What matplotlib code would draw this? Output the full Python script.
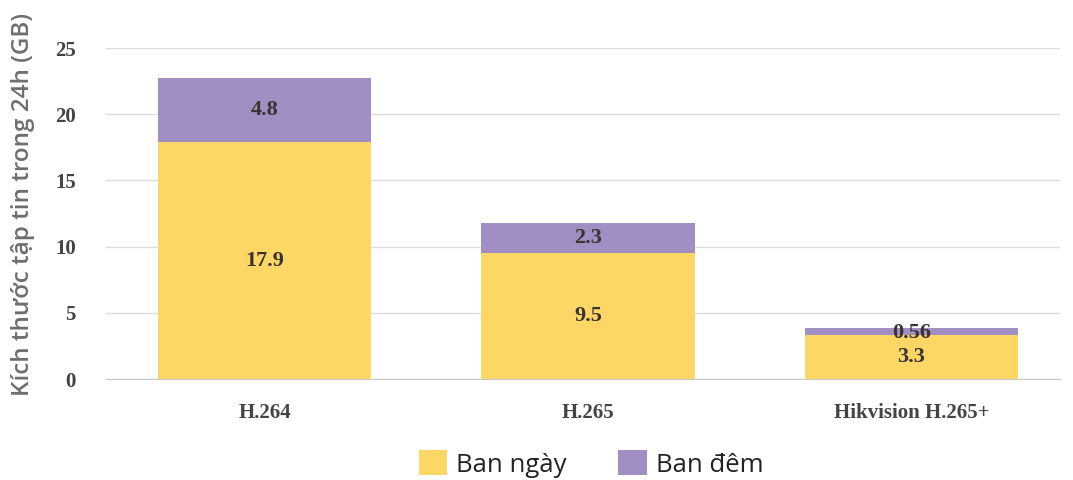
import matplotlib
matplotlib.use('Agg')
import matplotlib.pyplot as plt
import numpy as np

categories = ['H.264', 'H.265', 'Hikvision H.265+']
day_values = [17.9, 9.5, 3.3]
night_values = [4.8, 2.3, 0.56]
day_labels = ['17.9', '9.5', '3.3']
night_labels = ['4.8', '2.3', '0.56']
yticks = [0, 5, 10, 15, 20, 25]

yellow = '#FDD766'
purple = '#A18EC3'
serif = ['Liberation Serif', 'DejaVu Serif']

fig = plt.figure(figsize=(10.73, 4.8), dpi=100)
ax = fig.add_axes([0.099, 0.21, 0.889, 0.69])

x = np.arange(len(categories))
ax.bar(x, day_values, width=0.66, color=yellow, label='Ban ngày', zorder=2)
ax.bar(x, night_values, width=0.66, bottom=day_values, color=purple,
       label='Ban đêm', zorder=2)

lbl_kw = dict(ha='center', va='center', fontsize=16, fontweight='bold',
              color='#3b3232', family=serif, zorder=3)
for i in range(len(categories)):
    if day_values[i] > 5:
        ax.text(x[i], day_values[i] / 2, day_labels[i], **lbl_kw)
        ax.text(x[i], day_values[i] + night_values[i] / 2, night_labels[i], **lbl_kw)
    else:
        # small bar: labels stacked near the top
        ax.text(x[i], day_values[i] + night_values[i] - 0.35, night_labels[i], **lbl_kw)
        ax.text(x[i], day_values[i] - 1.65, day_labels[i], **lbl_kw)

ax.set_xlim(-0.49, 2.46)
ax.set_ylim(0, 25)
ax.set_yticks(yticks)
ax.set_yticklabels([str(t) for t in yticks], family=serif, fontweight='bold',
                   fontsize=15, color='#444444')
ax.set_xticks(x)
ax.set_xticklabels(categories, family=serif, fontweight='bold', fontsize=15,
                   color='#444444')
ax.tick_params(axis='both', length=0)
ax.tick_params(axis='y', pad=22)
ax.tick_params(axis='x', pad=17)
ax.yaxis.grid(True, color='#dcdcdc', linewidth=1, zorder=0)
for s in ['top', 'right', 'left']:
    ax.spines[s].set_visible(False)
ax.spines['bottom'].set_color('#c8c8c8')

fig.text(0.021, 0.575, 'Kích thước tập tin trong 24h (GB)', rotation=90,
         ha='center', va='center', fontsize=17.5, color='#6e6e6e',
         family='Open Sans', fontweight='semibold')

leg = fig.legend(loc='lower center', bbox_to_anchor=(0.551, -0.043), ncol=2,
                 frameon=False, handlelength=1.1, handleheight=1.1,
                 handletextpad=0.35, columnspacing=2.0,
                 prop={'family': 'Open Sans', 'size': 18.5})
for t in leg.get_texts():
    t.set_color('#222222')

fig.savefig('out.png', dpi=100, facecolor='white')
